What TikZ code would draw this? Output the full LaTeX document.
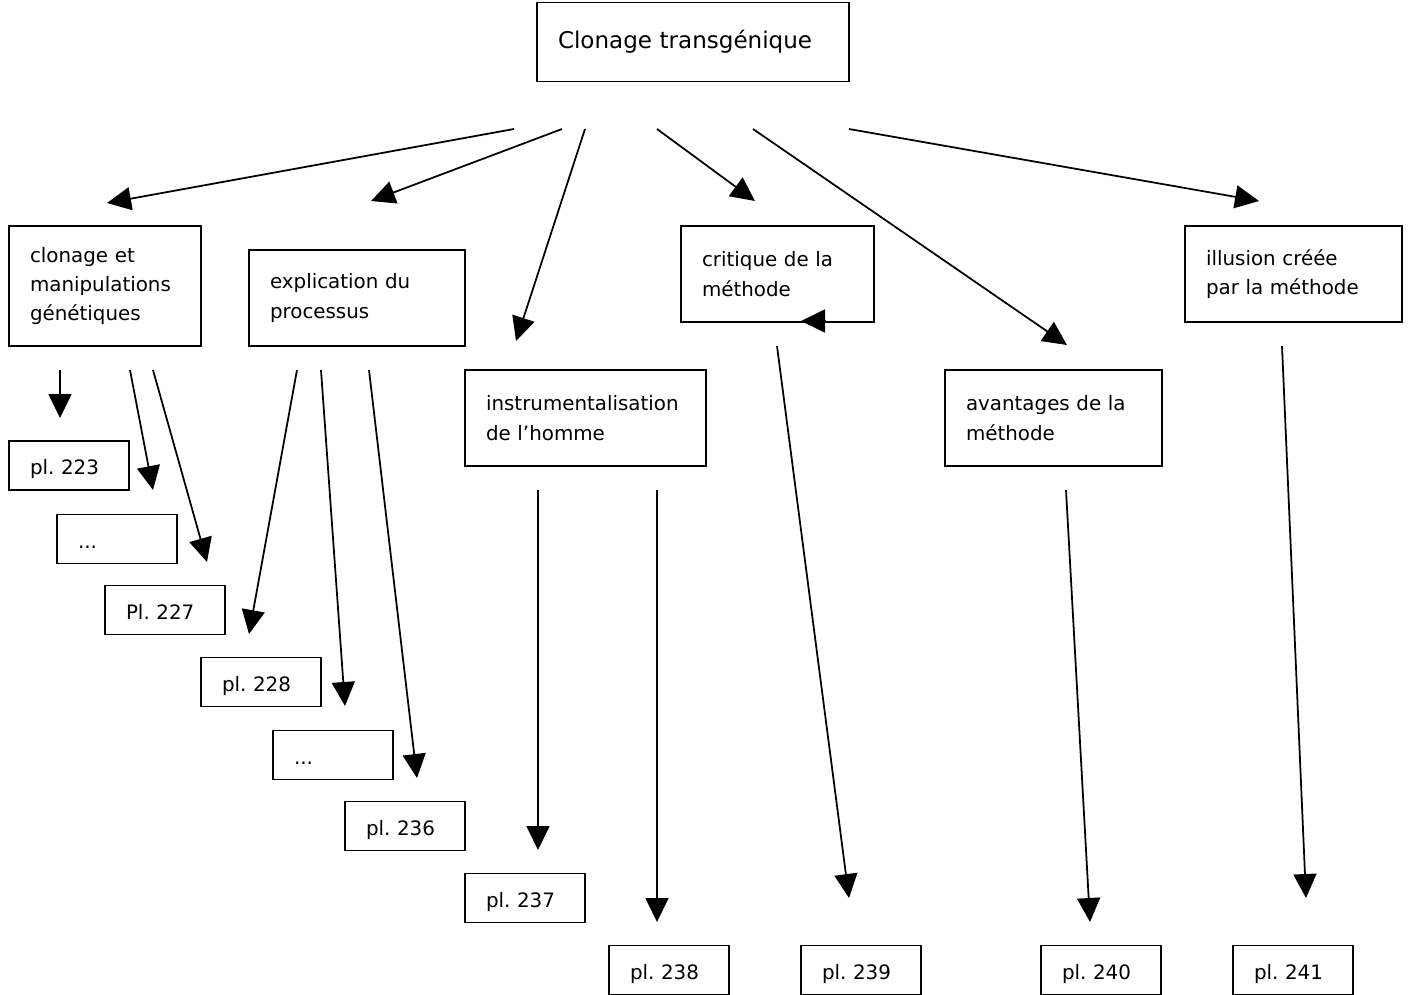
\documentclass[tikz,border=0pt]{standalone}
\usepackage{fontspec}
\setmainfont{DejaVu Sans}
\usepackage{tikz}
\usetikzlibrary{arrows.meta}
\frenchspacing
\newcommand{\boxfont}{\fontsize{11.3}{16.7}\selectfont}
\newcommand{\titlefont}{\fontsize{13.1}{16.7}\selectfont}
\tikzset{
	box/.style = {
		draw,
		rectangle,
		line width=1.1pt,
		align=left,
		inner xsep=0.42cm,
		inner ysep=0pt,
		font=\boxfont
	},
	topic/.style = {
		box,
		minimum height=1.92cm
	},
	page/.style = {
		box,
		text width=1.56cm,
		text height=10.8pt,
		text depth=0pt,
		minimum height=0.98cm
	}
}
\tikzstyle{arrow} = [line width=1pt, -{Triangle[length=0.48cm,width=0.46cm]}]

\begin{document}
\begin{tikzpicture}[x=0.02cm, y=-0.02cm]
		\useasboundingbox (0,0) rectangle (1409,994);
		% main topic
		\node[box, font=\titlefont, text width=5.4cm, minimum height=1.58cm] (top) at (693,42) {Clonage transgénique};
		
		% aspects
		\node[box, text width=3.0cm, minimum height=2.4cm] (clonage) at (105,286) {clonage et\\manipulations\\génétiques};
		\node[topic, text width=3.48cm] (explication) at (357,298) {explication du\\processus};
		\node[topic, text width=3.98cm] (instrument) at (585.5,418) {instrumentalisation\\de l'homme};
		\node[topic, text width=3.02cm] (critique) at (777.5,274) {critique de la\\méthode};
		\node[topic, text width=3.5cm] (avantages) at (1053.5,418) {avantages de la\\méthode};
		\node[topic, text width=3.5cm] (illusion) at (1293.5,274) {illusion créée\\par la méthode};
		
		% pages
		\node[page] (pl223) at (69,465.5) {pl. 223};
		\node[page] (dotsa) at (117,539) {...};
		\node[page] (pl227) at (165,610) {Pl. 227};
		\node[page] (pl228) at (261,682) {pl. 228};
		\node[page] (dotsb) at (333,755) {...};
		\node[page] (pl236) at (405,826) {pl. 236};
		\node[page] (pl237) at (525,898) {pl. 237};
		\node[page] (pl238) at (669,970) {pl. 238};
		\node[page] (pl239) at (861,970) {pl. 239};
		\node[page] (pl240) at (1101,970) {pl. 240};
		\node[page] (pl241) at (1293,970) {pl. 241};
		
		% arrow ends
		\coordinate (t1) at (514,129);  \coordinate (h1) at (107,203);
		\coordinate (t2) at (562,129);  \coordinate (h2) at (371,201);
		\coordinate (t3) at (585,129);  \coordinate (h3) at (516,341);
		\coordinate (t4) at (657,129);  \coordinate (h4) at (755,201);
		\coordinate (t5) at (753,129);  \coordinate (h5) at (1067,345);
		\coordinate (t6) at (849,129);  \coordinate (h6) at (1259,201);
		\coordinate (c1) at (60,370);   \coordinate (p223) at (60,418);
		\coordinate (c2) at (130,370);  \coordinate (pdotsa) at (153,490);
		\coordinate (c3) at (153,370);  \coordinate (p227) at (207,562);
		\coordinate (e1) at (297,370);  \coordinate (p228) at (249,634);
		\coordinate (e2) at (321,370);  \coordinate (pdotsb) at (345,706);
		\coordinate (e3) at (369,370);  \coordinate (p236) at (417,778);
		\coordinate (i1) at (538,490);  \coordinate (p237) at (538,850);
		\coordinate (i2) at (657,490);  \coordinate (p238) at (657,922);
		\coordinate (k1) at (777,346);  \coordinate (p239) at (849,898);
		\coordinate (v1) at (1066,490); \coordinate (p240) at (1090,922);
		\coordinate (u1) at (1282,346); \coordinate (p241) at (1306,898);
		\coordinate (k2) at (826,321);  \coordinate (k3) at (801,321);
		
		\draw[arrow] (t1) -- (h1);
		\draw[arrow] (t2) -- (h2);
		\draw[arrow] (t3) -- (h3);
		\draw[arrow] (t4) -- (h4);
		\draw[arrow] (t5) -- (h5);
		\draw[arrow] (t6) -- (h6);
		
		\draw[arrow] (c1) -- (p223);
		\draw[arrow] (c2) -- (pdotsa);
		\draw[arrow] (c3) -- (p227);
		\draw[arrow] (e1) -- (p228);
		\draw[arrow] (e2) -- (pdotsb);
		\draw[arrow] (e3) -- (p236);
		\draw[arrow] (i1) -- (p237);
		\draw[arrow] (i2) -- (p238);
		\draw[arrow] (k1) -- (p239);
		\draw[arrow] (v1) -- (p240);
		\draw[arrow] (u1) -- (p241);
		\draw[arrow] (k2) -- (k3);
	\end{tikzpicture}
\end{document}
